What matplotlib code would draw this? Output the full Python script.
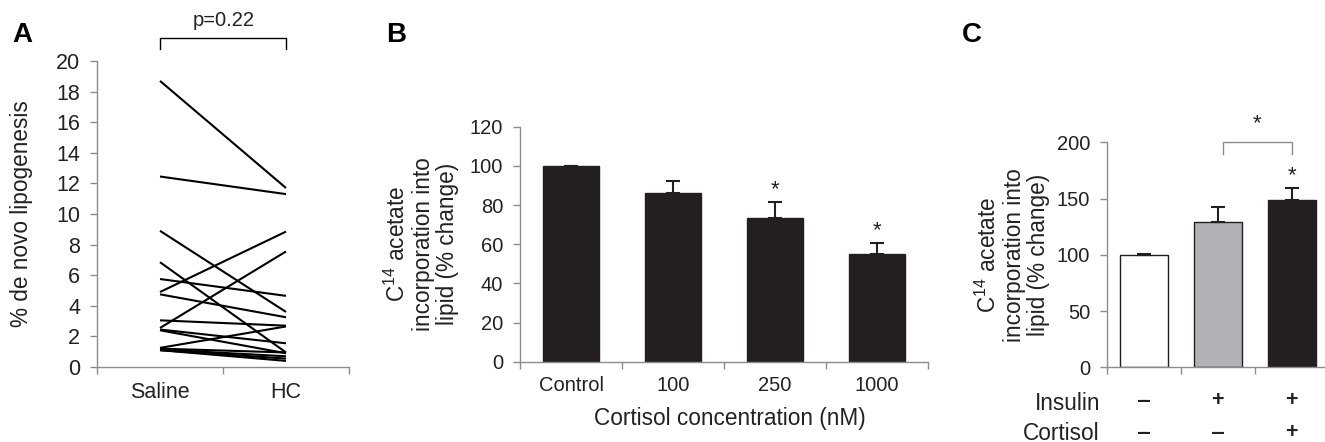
#!/usr/bin/env python3
import matplotlib
matplotlib.use("Agg")
import matplotlib.pyplot as plt
import numpy as np

# panel A: paired values, saline -> HC
saline = [18.7, 12.45, 8.9, 6.85, 5.75, 4.9, 4.75, 3.05, 2.55, 2.45, 2.4, 1.25, 1.2, 1.15, 1.1, 1.1]
hc = [11.7, 11.3, 3.6, 0.95, 4.65, 8.85, 3.25, 2.7, 7.55, 1.55, 0.9, 2.65, 0.95, 0.7, 0.55, 0.4]
groups_a = ["Saline", "HC"]

# panel B
conc = ["Control", "100", "250", "1000"]
uptake_b = [100, 86, 73.5, 55]
err_b = [0, 6.5, 8, 5.5]
star_b = [False, False, True, True]

# panel C
uptake_c = [100, 129.5, 148.5]
err_c = [0.5, 12.7, 10.6]
insulin = ["-", "+", "+"]
cortisol = ["-", "-", "+"]

plt.rcParams["font.family"] = ["Liberation Sans", "DejaVu Sans"]
plt.rcParams["mathtext.fontset"] = "custom"
plt.rcParams["mathtext.rm"] = "Liberation Sans"
plt.rcParams["mathtext.it"] = "Liberation Sans:italic"

TICK = 14.5
LAB = 16.3
axis_grey = "#8c8c8c"
txt = "#222222"
ylab_c14 = "C$^{14}$ acetate\nincorporation into\nlipid (% change)"

W, H = 1325, 442
fig = plt.figure(figsize=(W / 100, H / 100), dpi=100)


def box(l, r, t, b):
    return [l / W, 1 - b / H, (r - l) / W, (b - t) / H]


def style(ax, size=TICK):
    for s in ["top", "right"]:
        ax.spines[s].set_visible(False)
    for s in ["left", "bottom"]:
        ax.spines[s].set_color(axis_grey)
        ax.spines[s].set_linewidth(1.0)
    ax.tick_params(direction="out", length=5, width=1.0, pad=7, color=axis_grey,
                   labelcolor=txt, labelsize=size)


def side_label(x, y, s):
    fig.text(x / W, 1 - y / H, s, rotation=90, ha="center", va="center",
             fontsize=LAB, color=txt, linespacing=1.1, multialignment="center")


def sign_row(ax, signs, y):
    for i, sign in enumerate(signs):
        x_disp = ax.transData.transform((i, 0))[0]
        fig.text(x_disp / W, 1 - y / H, "\u2012" if sign == "-" else "+",
                 ha="center", va="center", fontsize=TICK + 1, fontweight="bold", color=txt)


# ---- A
ax = fig.add_axes(box(97, 349, 61, 367))
style(ax, 15.5)
for s, h in zip(saline, hc):
    ax.plot([0.5, 1.5], [s, h], color="black", lw=1.5, solid_capstyle="butt")
ax.set_xlim(0, 2)
ax.set_ylim(0, 20)
ax.set_yticks(np.arange(0, 21, 2))
ax.set_xticks([0, 1, 2])
ax.set_xticklabels([])
ax.set_xticks([0.5, 1.5], minor=True)
ax.set_xticklabels(groups_a, minor=True)
ax.tick_params(axis="x", which="minor", length=0, pad=11, labelsize=15.5, labelcolor=txt)
side_label(22, 214, "% de novo lipogenesis")
ax.plot([0.5, 0.5, 1.5, 1.5], [20.8, 21.5, 21.5, 20.8], color="black", lw=1.0, clip_on=False)
fig.text(224 / W, 1 - 20 / H, "p=0.22", ha="center", va="center", fontsize=TICK, color=txt)
fig.text(22 / W, 1 - 35 / H, "A", fontsize=20, fontweight="bold", va="center", ha="center")

# ---- B
ax = fig.add_axes(box(520, 928, 126.7, 361.7))
style(ax)
xb = np.arange(len(conc))
ax.bar(xb, uptake_b, width=0.54, color="#231f20", edgecolor="#231f20")
ax.errorbar(xb, uptake_b, yerr=[np.zeros(len(err_b)), err_b], fmt="none",
            ecolor="#231f20", elinewidth=1.5, capsize=5, capthick=1.5)
for i, (v, e, s) in enumerate(zip(uptake_b, err_b, star_b)):
    if s:
        ax.text(i, v + e + 1, "*", ha="center", va="bottom", fontsize=16, color=txt)
ax.set_xlim(-0.5, 3.5)
ax.set_ylim(0, 120)
ax.set_yticks(np.arange(0, 121, 20))
ax.set_xticks(np.arange(-0.5, 3.6, 1))
ax.set_xticklabels([])
ax.set_xticks(xb, minor=True)
ax.set_xticklabels(conc, minor=True)
ax.tick_params(axis="x", which="minor", length=0, pad=10, labelsize=TICK, labelcolor=txt)
side_label(422, 244, ylab_c14)
fig.text(730 / W, 1 - 418 / H, "Cortisol concentration (nM)", ha="center", va="center",
         fontsize=LAB, color=txt)
fig.text(396 / W, 1 - 35 / H, "B", fontsize=20, fontweight="bold", va="center", ha="center")

# ---- C
ax = fig.add_axes(box(1106.7, 1328.7, 142.3, 367.3))
style(ax)
xc = np.arange(len(uptake_c))
ax.bar(xc, uptake_c, width=0.65, color=["white", "#b1b2b6", "#231f20"],
       edgecolor="#231f20", linewidth=1.0)
ax.errorbar(xc, uptake_c, yerr=[np.zeros(len(err_c)), err_c], fmt="none",
            ecolor="#231f20", elinewidth=1.5, capsize=5, capthick=1.5)
ax.text(2, uptake_c[2] + err_c[2] + 2, "*", ha="center", va="bottom", fontsize=16, color=txt)
ax.plot([1.07, 1.07, 2, 2], [190, 200, 200, 190], color=axis_grey, lw=1.0, clip_on=False)
ax.text(1.53, 207, "*", ha="center", va="bottom", fontsize=16, color=txt, clip_on=False)
ax.set_xlim(-0.5, 2.5)
ax.set_ylim(0, 200)
ax.set_yticks(np.arange(0, 201, 50))
ax.set_xticks(np.arange(-0.5, 2.6, 1))
ax.set_xticklabels([])
side_label(1013, 255, ylab_c14)
sign_row(ax, insulin, 401)
sign_row(ax, cortisol, 433)
fig.text(1100 / W, 1 - 403 / H, "Insulin", ha="right", va="center", fontsize=LAB, color=txt)
fig.text(1100 / W, 1 - 433 / H, "Cortisol", ha="right", va="center", fontsize=LAB, color=txt)
fig.text(972 / W, 1 - 35 / H, "C", fontsize=20, fontweight="bold", va="center", ha="center")

fig.savefig("out.png", dpi=100)
